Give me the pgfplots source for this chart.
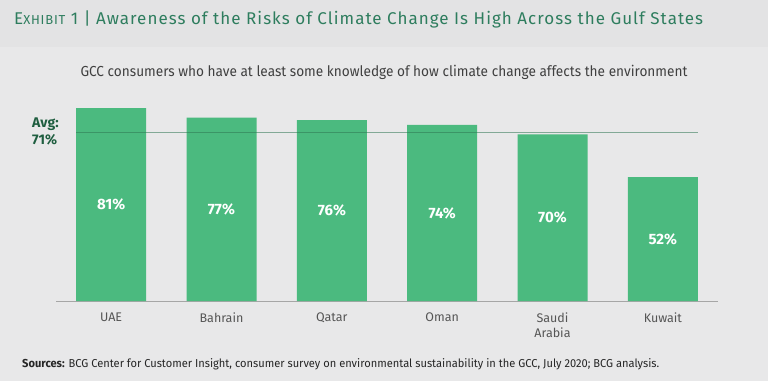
\documentclass[border=0pt]{standalone}
\usepackage{fontspec}
\setmainfont{Fira Sans}
\newfontfamily\cond[FakeStretch=0.94]{Fira Sans}
\newfontfamily\srcfont[FakeStretch=0.965]{Fira Sans}
\newfontfamily\titlefont[LetterSpace=6]{Fira Sans}
\usepackage{pgfplots}
\pgfplotsset{compat=1.18}
\definecolor{bg}{HTML}{E8E8E9}
\definecolor{bgtop}{HTML}{E3E3E4}
\definecolor{titlegreen}{HTML}{2E7D5E}
\definecolor{bargreen}{HTML}{4BBA7F}
\definecolor{avggreen}{HTML}{2F7752}
\definecolor{avgtext}{HTML}{1F5E40}
\definecolor{ticktext}{HTML}{555555}
\definecolor{subtext}{HTML}{404040}
\begin{document}
\begin{tikzpicture}
\fill[bg] (0pt,0pt) rectangle (768pt,381pt);
\fill[bgtop] (0pt,334pt) rectangle (768pt,381pt);
\node[anchor=west, text=titlegreen, font=\titlefont\fontsize{17}{19}\selectfont, inner sep=0pt] at (14pt,362pt)
  {E{\fontsize{13}{14}\selectfont XHIBIT} 1 | Awareness of the Risks of Climate Change Is High Across the Gulf States};
\node[text=subtext, font=\cond\fontsize{14.5}{16}\selectfont, inner sep=0pt] at (384pt,309pt)
  {GCC consumers who have at least some knowledge of how climate change affects the environment};
\node[anchor=west, text=avgtext, font=\bfseries\fontsize{14}{17}\selectfont, align=left, inner sep=0pt] at (32pt,250pt)
  {Avg:\\71\%};
\node[anchor=west, text=black!85, font=\srcfont\fontsize{11.5}{13}\selectfont, inner sep=0pt] at (22pt,17pt)
  {\textbf{Sources:} BCG Center for Customer Insight, consumer survey on environmental sustainability in the GCC, July 2020; BCG analysis.};
\begin{axis}[
  at={(56pt,80pt)}, anchor=south west,
  scale only axis, width=662pt, height=214.2pt,
  xmin=-0.5, xmax=5.5, ymin=0, ymax=90,
  axis x line*=bottom, axis y line=none,
  axis line style={draw=black!35, line width=0.8pt, -},
  xtick={0,1,2,3,4,5},
  xticklabels={UAE,Bahrain,Qatar,Oman,{Saudi\\Arabia},Kuwait},
  xticklabel style={align=center, text=ticktext, font=\fontsize{12.5}{15}\selectfont, anchor=north, yshift=-8pt},
  major tick length=0pt,
  clip=false,
]
\addplot[ybar, bar width=70pt, fill=bargreen, draw=none] coordinates {(0,81) (1,77) (2,76) (3,74) (4,70) (5,52)};
\addplot[avggreen, line width=1pt, opacity=0.55] coordinates {(-0.317,71) (5.317,71)};
\addplot[draw=none, mark=none, nodes near coords, point meta=explicit symbolic,
  every node near coord/.style={anchor=center, text=white, font=\bfseries\fontsize{15}{17}\selectfont}]
  coordinates {(0,40.5)[81\%] (1,38.5)[77\%] (2,38)[76\%] (3,37)[74\%] (4,35)[70\%] (5,26)[52\%]};
\end{axis}
\end{tikzpicture}
\end{document}
